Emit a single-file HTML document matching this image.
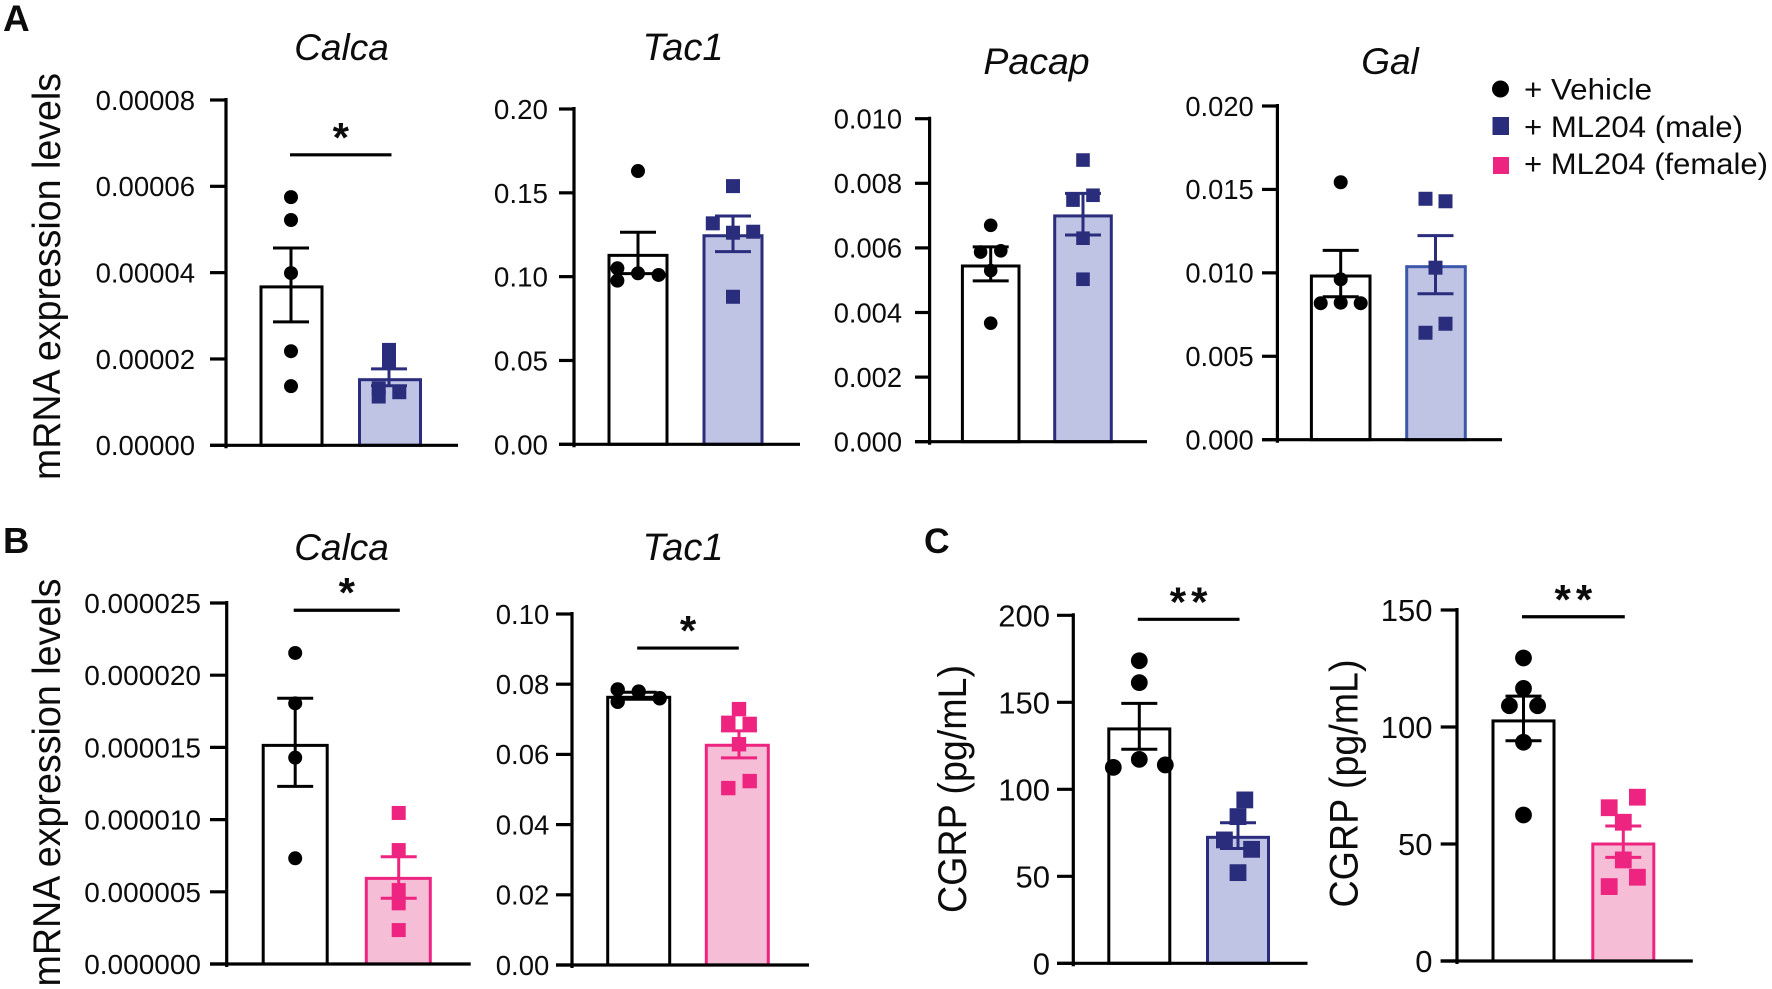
<!DOCTYPE html>
<html lang="en">
<head>
<meta charset="utf-8">
<title>mRNA expression and CGRP levels</title>
<style>
html,body{margin:0;padding:0;background:#fff}
svg{display:block}
text{font-family:"Liberation Sans",Arial,sans-serif;fill:#0c0c0c}
</style>
</head>
<body>
<svg id="figure" xmlns="http://www.w3.org/2000/svg" width="1772" height="989" viewBox="0 0 1772 989">
  <rect x="0" y="0" width="1772" height="989" fill="#ffffff"/>

  <text x="3" y="31" font-size="37" font-weight="700">A</text>
  <text x="3" y="553" font-size="36.5" font-weight="700">B</text>
  <text x="924" y="553" font-size="35.5" font-weight="700">C</text>

  <text x="341.5" y="60" font-size="37" font-style="italic" text-anchor="middle">Calca</text>
  <text x="683" y="60" font-size="38" font-style="italic" text-anchor="middle">Tac1</text>
  <text x="1036.5" y="74" font-size="37.5" font-style="italic" text-anchor="middle">Pacap</text>
  <text x="1390" y="74" font-size="37" font-style="italic" text-anchor="middle">Gal</text>
  <text x="341.5" y="560" font-size="37" font-style="italic" text-anchor="middle">Calca</text>
  <text x="683" y="560" font-size="38" font-style="italic" text-anchor="middle">Tac1</text>

  <text transform="translate(60 276.5) rotate(-90)" font-size="39" text-anchor="middle" textLength="407" lengthAdjust="spacingAndGlyphs">mRNA expression levels</text>
  <text transform="translate(60 782.5) rotate(-90)" font-size="39" text-anchor="middle" textLength="408" lengthAdjust="spacingAndGlyphs">mRNA expression levels</text>
  <text transform="translate(966 789) rotate(-90)" font-size="39.5" text-anchor="middle" textLength="248" lengthAdjust="spacingAndGlyphs">CGRP (pg/mL)</text>
  <text transform="translate(1357.5 783.5) rotate(-90)" font-size="39.5" text-anchor="middle" textLength="248" lengthAdjust="spacingAndGlyphs">CGRP (pg/mL)</text>

  <g id="panels"></g>

  <g>
    <g>
      <circle cx="1500.5" cy="89" r="8.5" fill="#000"/>
      <text x="1524" y="99.5" font-size="30" textLength="128" lengthAdjust="spacingAndGlyphs">+ Vehicle</text>
    </g>
    <g>
      <rect x="1492.5" y="117" width="16.5" height="18" fill="#2a2c7c"/>
      <text x="1524" y="137" font-size="30" textLength="219" lengthAdjust="spacingAndGlyphs">+ ML204 (male)</text>
    </g>
    <g>
      <rect x="1493" y="157" width="16" height="17" fill="#ee2580"/>
      <text x="1524" y="174" font-size="30" textLength="244" lengthAdjust="spacingAndGlyphs">+ ML204 (female)</text>
    </g>
  </g>
</svg>

<script>
// ---- Panel A, Calca ----
const aCalcaTicks = ['0.00000','0.00002','0.00004','0.00006','0.00008'];
const aCalcaMeans = [0.0000367, 0.0000152];
const aCalcaErrHigh = [0.0000457, 0.0000177];
const aCalcaErrLow = [0.0000286, 0.0000138];
const aCalcaVehicle = [0.0000575, 0.0000522, 0.0000399, 0.0000218, 0.0000137];
const aCalcaVehicleSlots = [0, 0, 0, 0, 0];
const aCalcaMale = [0.0000221, 0.0000194, 0.0000132, 0.0000113, 0.0000123];
const aCalcaMaleSlots = [0, 0, -1, -1, 1];
const aCalcaSig = 0.0000673;

// ---- Panel A, Tac1 ----
const aTac1Ticks = ['0.00','0.05','0.10','0.15','0.20'];
const aTac1Means = [0.1127, 0.1244];
const aTac1ErrHigh = [0.1265, 0.1362];
const aTac1ErrLow = [0.1018, 0.1149];
const aTac1Vehicle = [0.163, 0.105, 0.0976, 0.102, 0.101];
const aTac1VehicleSlots = [0, -1, -1, 0, 1];
const aTac1Male = [0.154, 0.1318, 0.1262, 0.1268, 0.088];
const aTac1MaleSlots = [0, -1, 0, 1, 0];

// ---- Panel A, Pacap ----
const aPacapTicks = ['0.000','0.002','0.004','0.006','0.008','0.010'];
const aPacapMeans = [0.00544, 0.00699];
const aPacapErrHigh = [0.00603, 0.00769];
const aPacapErrLow = [0.00498, 0.0064];
const aPacapVehicle = [0.0067, 0.00587, 0.00591, 0.0053, 0.00367];
const aPacapVehicleSlots = [0, -1, 1, 0, 0];
const aPacapMale = [0.00872, 0.00763, 0.00748, 0.0063, 0.00503];
const aPacapMaleSlots = [0, 1, -1, 0, 0];

// ---- Panel A, Gal ----
const aGalTicks = ['0.000','0.005','0.010','0.015','0.020'];
const aGalMeans = [0.00981, 0.01037];
const aGalErrHigh = [0.01135, 0.01223];
const aGalErrLow = [0.00857, 0.00875];
const aGalVehicle = [0.01543, 0.00961, 0.00818, 0.00821, 0.00818];
const aGalVehicleSlots = [0, 0, -1, 0, 1];
const aGalMale = [0.01444, 0.01429, 0.01031, 0.00695, 0.00641];
const aGalMaleSlots = [-1, 1, 0, 1, -1];

// ---- Panel B, Calca ----
const bCalcaTicks = ['0.000000','0.000005','0.000010','0.000015','0.000020','0.000025'];
const bCalcaMeans = [0.00001514, 0.00000593];
const bCalcaErrHigh = [0.0000184, 0.00000743];
const bCalcaErrLow = [0.0000123, 0.00000455];
const bCalcaVehicle = [0.00002154, 0.00001805, 0.00001429, 0.00000732];
const bCalcaVehicleSlots = [0, 0, 0, 0];
const bCalcaFemale = [0.00001046, 0.00000789, 0.00000512, 0.0000042, 0.00000235];
const bCalcaFemaleSlots = [0, 0, 0, 0, 0];
const bCalcaSig = 0.0000245;

// ---- Panel B, Tac1 ----
const bTac1Ticks = ['0.00','0.02','0.04','0.06','0.08','0.10'];
const bTac1Means = [0.07627, 0.0626];
const bTac1ErrHigh = [0.0777, 0.0667];
const bTac1ErrLow = [0.0757, 0.059];
const bTac1Vehicle = [0.0785, 0.075, 0.0779, 0.076];
const bTac1VehicleSlots = [-1, -1, 0, 1];
const bTac1Female = [0.0729, 0.069, 0.0687, 0.0629, 0.0524, 0.0504];
const bTac1FemaleSlots = [0, -1, 1, 0, 1, -1];
const bTac1Sig = 0.0903;

// ---- Panel C, CGRP male ----
const cMaleTicks = ['0','50','100','150','200'];
const cMaleMeans = [134.7, 72.4];
const cMaleErrHigh = [149.4, 80.8];
const cMaleErrLow = [123, 66];
const cMaleVehicle = [173.9, 161.3, 117.2, 112.6, 114];
const cMaleVehicleSlots = [0, 0, 0, -1, 1];
const cMaleTreated = [93.9, 84.3, 70.9, 65.5, 52.1];
const cMaleTreatedSlots = [0.5, 0, -1, 1, 0];
const cMaleSig = 197.7;

// ---- Panel C, CGRP female ----
const cFemaleTicks = ['0','50','100','150'];
const cFemaleMeans = [102.6, 50];
const cFemaleErrHigh = [113.2, 57.7];
const cFemaleErrLow = [94.1, 44.3];
const cFemaleVehicle = [129.5, 116.5, 109.1, 109.1, 93.5, 62.4];
const cFemaleVehicleSlots = [0, 0, -1, 1, 0, 0];
const cFemaleTreated = [70, 65.5, 59.3, 43.2, 35.8, 31.8];
const cFemaleTreatedSlots = [1, -1, 0, 0, 1, -1];
const cFemaleSig = 147.1;

const SVG_NS = 'http://www.w3.org/2000/svg';
const INK = '#000000';
const NAVY = '#2a2c7c';
const NAVY_FILL = '#c0c4e4';
const PINK = '#ee2580';
const PINK_FILL = '#f6bdd6';
const root = document.getElementById('panels');

function shape(parent, tag, props) {
  const el = document.createElementNS(SVG_NS, tag);
  for (const key in props) el.setAttribute(key, props[key]);
  parent.appendChild(el);
  return el;
}

function drawPanel(p) {
  const maxValue = parseFloat(p.ticks[p.ticks.length - 1]);
  const y = v => p.yBottom - (v / maxValue) * (p.yBottom - p.yTop);
  const fs = p.font;

  const g = shape(root, 'g', {});
  
  

  // bars
  p.means.forEach((m, i) => {
    const s = p.series[i];
    const bar = shape(g, 'rect', {
      x: p.centers[i] - p.barHalf, y: y(m),
      width: p.barHalf * 2, height: p.yBottom - y(m),
      fill: s.fill, stroke: s.stroke, 'stroke-width': 3
    });
    
    
  });

  // individual points
  p.series.forEach((s, i) => {
    s.values.forEach((v, j) => {
      const px = p.centers[i] + s.offset + s.slots[j] * s.slotPx;
      let mark;
      if (s.marker === 'circle') {
        mark = shape(g, 'circle', { cx: px, cy: y(v), r: p.marker, fill: s.stroke });
      } else {
        mark = shape(g, 'rect', {
          x: px - p.marker, y: y(v) - p.marker,
          width: p.marker * 2, height: p.marker * 2, fill: s.pointFill || s.stroke
        });
      }
      
      
    });
  });

  // error bars
  p.means.forEach((m, i) => {
    const s = p.series[i];
    const ex = p.centers[i] + s.offset;
    const err = shape(g, 'path', {
      d: 'M' + ex + ' ' + y(p.errHigh[i]) + 'V' + y(p.errLow[i]) +
         'M' + (ex - 18) + ' ' + y(p.errHigh[i]) + 'H' + (ex + 18) +
         'M' + (ex - 18) + ' ' + y(p.errLow[i]) + 'H' + (ex + 18),
      fill: 'none', stroke: s.errStroke || s.stroke, 'stroke-width': 3
    });
    
    
  });

  // axes
  const yAxis = shape(g, 'line', {
    x1: p.axisX, x2: p.axisX, y1: p.yTop - 2, y2: p.yBottom + 3,
    stroke: INK, 'stroke-width': 3.2
  });
  
  

  const xAxis = shape(g, 'line', {
    x1: p.tickLeft, x2: p.axisEnd, y1: p.yBottom, y2: p.yBottom,
    stroke: INK, 'stroke-width': 3.2
  });
  
  

  p.ticks.forEach(label => {
    const ty = y(parseFloat(label));
    const tick = shape(g, 'line', {
      x1: p.tickLeft, x2: p.axisX, y1: ty, y2: ty, stroke: INK, 'stroke-width': 3.2
    });
    
    

    const txt = shape(g, 'text', {
      x: p.labelRight, y: ty + fs * 0.358, 'font-size': fs, 'text-anchor': 'end'
    });
    txt.textContent = label;
    
    
  });

  // significance annotation
  if (p.sig !== undefined) {
    const sy = y(p.sig);
    const x1 = p.centers[0] - 1.5;
    const x2 = p.centers[1] + 1.5;
    const sigLine = shape(g, 'line', { x1: x1, x2: x2, y1: sy, y2: sy, stroke: INK, 'stroke-width': 3.2 });
    
    

    const spacing = p.stars.length > 1 ? 5 : 0;
    const star = shape(g, 'text', {
      x: (x1 + x2) / 2 + spacing / 2, y: sy - 3, 'font-size': 42, 'font-weight': 700,
      'text-anchor': 'middle', 'letter-spacing': spacing
    });
    star.textContent = p.stars;
    
    
  }
}

function vehicle(values, slots, slotPx, offset) {
  return { key: 'vehicle', marker: 'circle', fill: '#ffffff', stroke: INK, values, slots, slotPx, offset: offset || 0 };
}
function male(values, slots, slotPx, offset, stroke) {
  return { key: 'male', marker: 'square', fill: NAVY_FILL, stroke: stroke || NAVY, pointFill: NAVY, errStroke: NAVY, values, slots, slotPx, offset: offset || 0 };
}
function female(values, slots, slotPx, offset) {
  return { key: 'female', marker: 'square', fill: PINK_FILL, stroke: PINK, values, slots, slotPx, offset: offset || 0 };
}

drawPanel({
  id: 'a-calca', ticks: aCalcaTicks, means: aCalcaMeans, errHigh: aCalcaErrHigh, errLow: aCalcaErrLow,
  axisX: 226, axisEnd: 458, tickLeft: 210, yBottom: 445.3, yTop: 100, labelRight: 195, font: 27.5,
  centers: [291.5, 390], barHalf: 30.5, marker: 7, sig: aCalcaSig, stars: '*',
  series: [vehicle(aCalcaVehicle, aCalcaVehicleSlots, 10, -0.5), male(aCalcaMale, aCalcaMaleSlots, 10.3, -1)]
});
drawPanel({
  id: 'a-tac1', ticks: aTac1Ticks, means: aTac1Means, errHigh: aTac1ErrHigh, errLow: aTac1ErrLow,
  axisX: 574, axisEnd: 800, tickLeft: 559, yBottom: 444.3, yTop: 109, labelRight: 548, font: 27.8,
  centers: [638, 733], barHalf: 29, marker: 7,
  series: [vehicle(aTac1Vehicle, aTac1VehicleSlots, 20.6), male(aTac1Male, aTac1MaleSlots, 20.2)]
});
drawPanel({
  id: 'a-pacap', ticks: aPacapTicks, means: aPacapMeans, errHigh: aPacapErrHigh, errLow: aPacapErrLow,
  axisX: 929.6, axisEnd: 1147, tickLeft: 915, yBottom: 441.7, yTop: 118.7, labelRight: 902, font: 27.3,
  centers: [990.7, 1083], barHalf: 28.3, marker: 6.8,
  series: [vehicle(aPacapVehicle, aPacapVehicleSlots, 10.1), male(aPacapMale, aPacapMaleSlots, 10)]
});
drawPanel({
  id: 'a-gal', ticks: aGalTicks, means: aGalMeans, errHigh: aGalErrHigh, errLow: aGalErrLow,
  axisX: 1277.4, axisEnd: 1502, tickLeft: 1262, yBottom: 439.7, yTop: 106, labelRight: 1253.7, font: 27.3,
  centers: [1340.7, 1436], barHalf: 29.3, marker: 7,
  series: [vehicle(aGalVehicle, aGalVehicleSlots, 20), male(aGalMale, aGalMaleSlots, 10, -0.5, '#3d57ab')]
});
drawPanel({
  id: 'b-calca', ticks: bCalcaTicks, means: bCalcaMeans, errHigh: bCalcaErrHigh, errLow: bCalcaErrLow,
  axisX: 226.7, axisEnd: 470.7, tickLeft: 210, yBottom: 964, yTop: 603, labelRight: 201, font: 28,
  centers: [295.2, 398.3], barHalf: 32, marker: 7, sig: bCalcaSig, stars: '*',
  series: [vehicle(bCalcaVehicle, bCalcaVehicleSlots, 10), female(bCalcaFemale, bCalcaFemaleSlots, 10, 0.4)]
});
drawPanel({
  id: 'b-tac1', ticks: bTac1Ticks, means: bTac1Means, errHigh: bTac1ErrHigh, errLow: bTac1ErrLow,
  axisX: 572, axisEnd: 809, tickLeft: 556, yBottom: 965, yTop: 614, labelRight: 549.3, font: 27.5,
  centers: [638.7, 737.3], barHalf: 31, marker: 7.2, sig: bTac1Sig, stars: '*',
  series: [vehicle(bTac1Vehicle, bTac1VehicleSlots, 21), female(bTac1Female, bTac1FemaleSlots, 10.7, 1.7)]
});
drawPanel({
  id: 'c-male', ticks: cMaleTicks, means: cMaleMeans, errHigh: cMaleErrHigh, errLow: cMaleErrLow,
  axisX: 1073.3, axisEnd: 1307.5, tickLeft: 1057, yBottom: 963.3, yTop: 615.3, labelRight: 1050, font: 31,
  centers: [1139.3, 1238], barHalf: 30.5, marker: 8.4, sig: cMaleSig, stars: '**',
  series: [vehicle(cMaleVehicle, cMaleVehicleSlots, 26), male(cMaleTreated, cMaleTreatedSlots, 13.6)]
});
drawPanel({
  id: 'c-female', ticks: cFemaleTicks, means: cFemaleMeans, errHigh: cFemaleErrHigh, errLow: cFemaleErrLow,
  axisX: 1457, axisEnd: 1692.8, tickLeft: 1440.7, yBottom: 961, yTop: 610, labelRight: 1432.5, font: 31,
  centers: [1523.5, 1623.3], barHalf: 30.5, marker: 8.4, sig: cFemaleSig, stars: '**',
  series: [vehicle(cFemaleVehicle, cFemaleVehicleSlots, 14.1), female(cFemaleTreated, cFemaleTreatedSlots, 14.1)]
});
</script>
</body>
</html>
